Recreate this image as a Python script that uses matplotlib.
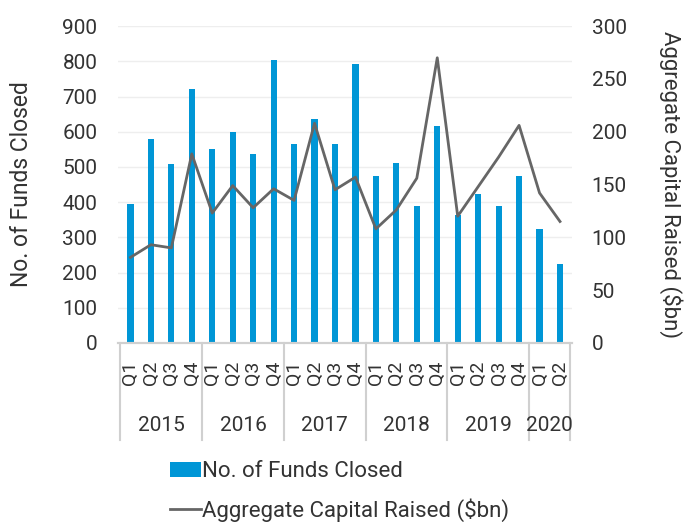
import numpy as np
import matplotlib.pyplot as plt
from matplotlib.transforms import blended_transform_factory

plt.rcParams['font.family'] = ['Roboto', 'DejaVu Sans']

years = ["2015", "2016", "2017", "2018", "2019", "2020"]
quarters = ["Q1", "Q2", "Q3", "Q4"] * 5 + ["Q1", "Q2"]
funds_closed = [395, 580, 508, 722, 550, 600, 537, 803, 565, 637, 565, 792,
                473, 510, 390, 617, 363, 423, 390, 473, 325, 223]
capital_raised = [81, 93, 90, 179, 123, 149, 128, 146, 135, 208, 145, 157,
                  108, 126, 156, 270, 120, 148, 176, 206, 142, 115]
year_sizes = [4, 4, 4, 4, 4, 2]

text_col = "#333333"
fs = 15
x = np.arange(len(funds_closed))

fig = plt.figure(figsize=(6.87, 5.22), dpi=100)
ax = fig.add_axes([0.172, 0.343, 0.661, 0.607])
ax2 = ax.twinx()

bars = ax.bar(x, funds_closed, width=0.3, color="#0096D6", zorder=2,
              label="No. of Funds Closed")
line, = ax2.plot(x, capital_raised, color="#666666", lw=2,
                 label="Aggregate Capital Raised ($bn)")

ax.set_ylim(0, 900)
ax.set_yticks(range(0, 901, 100))
ax2.set_ylim(0, 300)
ax2.set_yticks(range(0, 301, 50))
ax.set_xlim(-0.6, len(x) - 0.4)
ax.yaxis.grid(True, color="#eeeeee", lw=1, zorder=0)
ax.set_axisbelow(True)

for a in (ax, ax2):
    for s in ["top", "left", "right"]:
        a.spines[s].set_visible(False)
    a.spines["bottom"].set_color("#d0d0d0")
    a.spines["bottom"].set_linewidth(1.5)
    a.tick_params(axis="y", length=0, labelsize=fs, labelcolor=text_col)

ax.tick_params(axis="y", pad=15)
ax2.tick_params(axis="y", pad=14)
ax.set_xticks(x)
ax.set_xticklabels(quarters, rotation=90, fontsize=14, color=text_col)
ax.tick_params(axis="x", length=0, pad=13)

ax.set_ylabel("No. of Funds Closed", fontsize=16.5, color=text_col)
ax.yaxis.set_label_coords(-0.188, 0.5)
ax2.set_ylabel("Aggregate Capital Raised ($bn)", fontsize=16,
               color=text_col, rotation=270)
ax2.yaxis.set_label_coords(1.19, 0.5)
ax2.yaxis.label.set_va("bottom")

# year groups under the quarter labels
trans = blended_transform_factory(ax.transData, ax.transAxes)
start = 0
bounds = [-0.5]
for yr, n in zip(years, year_sizes):
    mid = start + (n - 1) / 2
    ax.text(mid, -0.259, yr, transform=trans, ha="center", va="center",
            fontsize=fs, color=text_col)
    start += n
    bounds.append(start - 0.5)
for b in bounds:
    ax.plot([b, b], [0, -0.306], transform=trans, color="#d0d0d0", lw=1.5,
            clip_on=False)

fig.legend(handles=[bars, line], loc="upper left",
           bbox_to_anchor=(0.218, 0.155), frameon=False, fontsize=16,
           handlelength=1.4, handletextpad=0.05, labelspacing=0.75,
           labelcolor=text_col)

plt.savefig("out.png", dpi=100)
